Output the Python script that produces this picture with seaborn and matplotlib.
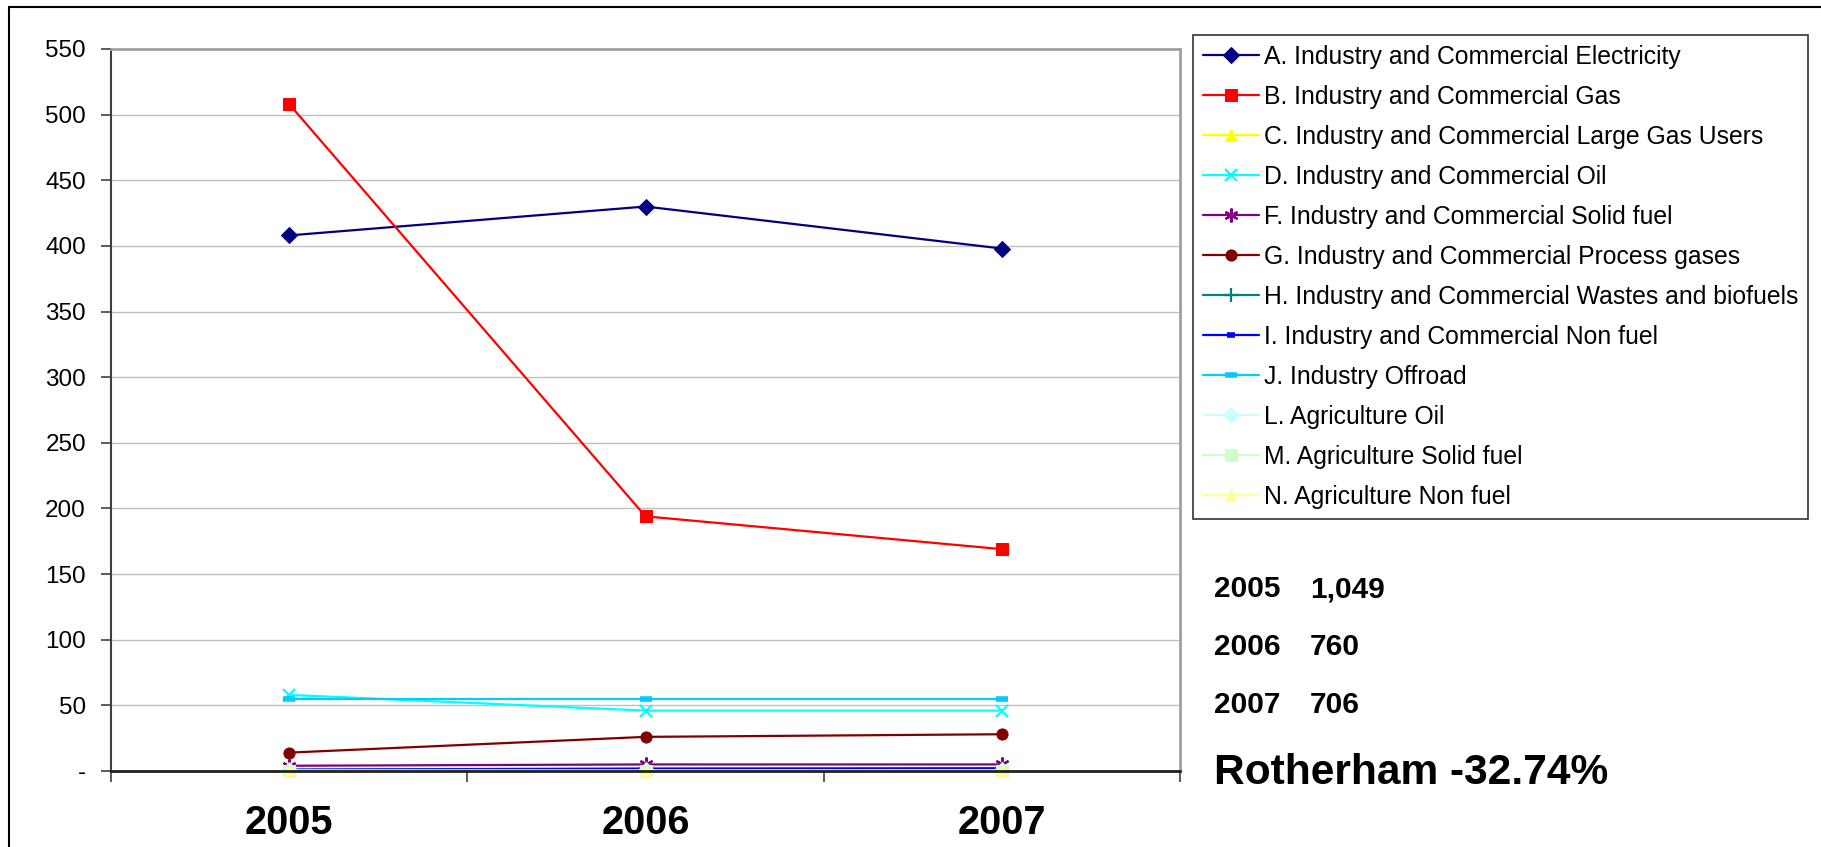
import matplotlib
matplotlib.use("Agg")
import matplotlib.pyplot as plt
from matplotlib.lines import Line2D
from matplotlib.ticker import FixedLocator, FuncFormatter
import numpy as np
import pandas as pd
import seaborn as sns

# ---- data -------------------------------------------------------------
years = [2005, 2006, 2007]

series_names = [
    "A. Industry and Commercial Electricity",
    "B. Industry and Commercial Gas",
    "C. Industry and Commercial Large Gas Users",
    "D. Industry and Commercial Oil",
    "F. Industry and Commercial Solid fuel",
    "G. Industry and Commercial Process gases",
    "H. Industry and Commercial Wastes and biofuels",
    "I. Industry and Commercial Non fuel",
    "J. Industry Offroad",
    "L. Agriculture Oil",
    "M. Agriculture Solid fuel",
    "N. Agriculture Non fuel",
]

elec = [408, 430, 398]
gas = [508, 194, 169]
large_gas = [0.3, 0.3, 0.5]
oil = [58, 46, 46]
solid = [4, 5, 5]
process = [14, 26, 28]
wastes = [1, 2, 2]
non_fuel = [1, 1.5, 2]
offroad = [55, 55, 55]
agri_oil = [0.4, 0.4, 0.5]
agri_solid = [0.2, 0.2, 0.3]
agri_non_fuel = [0.1, 0.1, 0.2]

series_values = [elec, gas, large_gas, oil, solid, process, wastes,
                 non_fuel, offroad, agri_oil, agri_solid, agri_non_fuel]

totals_years = ["2005", "2006", "2007"]
totals_labels = ["1,049", "760", "706"]
headline = "Rotherham -32.74%"

y_ticks = [0, 50, 100, 150, 200, 250, 300, 350, 400, 450, 500, 550]

# ---- styles -----------------------------------------------------------
colors = ["#000080", "#FF0000", "#FFFF00", "#00FFFF", "#800080", "#800000",
          "#008080", "#0000FF", "#00CCFF", "#CCFFFF", "#CCFFCC", "#FFFF99"]
markers = ["D", "s", "^", "x", (6, 2, 0), "o", "+", "_", "_", "D", "s", "^"]
msizes = [8, 8, 9, 9, 10, 8, 10, 6, 8, 8, 8, 9]

rows = []
for name, vals in zip(series_names, series_values):
    for yr, v in zip(years, vals):
        rows.append({"series": name, "year": yr, "value": v})
df = pd.DataFrame(rows)

sns.set_theme(style="white")
plt.rcParams["font.family"] = ["Liberation Sans", "DejaVu Sans"]
plt.rcParams["text.color"] = "black"
plt.rcParams["xtick.labelcolor"] = "black"
plt.rcParams["ytick.labelcolor"] = "black"

W, H = 1821, 847
fig = plt.figure(figsize=(W / 100, H / 100), dpi=100)
fig.patch.set_facecolor("white")

x0, x1, ytop, ybot = 111, 1180, 49, 771
ax = fig.add_axes([x0 / W, 1 - ybot / H, (x1 - x0) / W, (ybot - ytop) / H])

for name, col, mk, ms in zip(series_names, colors, markers, msizes):
    sub = df[df["series"] == name]
    filled = mk not in ("x", "+", "_") and not isinstance(mk, tuple)
    kw = dict(markeredgecolor=col, markerfacecolor=col if filled else "none")
    if mk == "_":
        kw["markeredgewidth"] = 4
    elif not filled:
        kw["markeredgewidth"] = 1.6
    sns.lineplot(data=sub, x="year", y="value", ax=ax, color=col,
                 marker=mk, markersize=ms, linewidth=1.6, label=name,
                 legend=False, clip_on=False, **kw)

ax.set_xlim(2004.5, 2007.5)
ax.set_ylim(0, 550)
ax.set_xlabel("")
ax.set_ylabel("")

ax.yaxis.set_major_locator(FixedLocator(y_ticks))
ax.yaxis.set_major_formatter(FuncFormatter(lambda v, p: "-" if v == 0 else f"{v:.0f}"))
ax.tick_params(axis="y", which="major", direction="out", length=7, width=1.2,
               color="#404040", labelsize=17.5, pad=11, left=True,
               labelcolor="black")

ax.xaxis.set_major_locator(FixedLocator(years))
ax.xaxis.set_major_formatter(FuncFormatter(lambda v, p: f"{v:.0f}"))
ax.xaxis.set_minor_locator(FixedLocator([2004.5, 2005.5, 2006.5, 2007.5]))
ax.tick_params(axis="x", which="major", length=0, labelsize=28.5, pad=24,
               labelcolor="black")
ax.tick_params(axis="x", which="minor", direction="out", length=8, width=1.2,
               color="#404040", bottom=True)
for lbl in ax.get_xticklabels():
    lbl.set_fontweight("bold")

ax.grid(axis="y", color="#c0c0c0", linewidth=1.0)
ax.grid(axis="x", visible=False)
ax.set_axisbelow(True)

ax.spines["left"].set_color("#404040")
ax.spines["left"].set_linewidth(1.5)
ax.spines["bottom"].set_color("#202020")
ax.spines["bottom"].set_linewidth(2)
for s in ("top", "right"):
    ax.spines[s].set_color("#a0a0a0")
    ax.spines[s].set_linewidth(2)

# legend box on the right
handles, labels = ax.get_legend_handles_labels()
leg = fig.legend(handles, labels, loc="upper left",
                 bbox_to_anchor=(1193 / W, 1 - 35 / H),
                 frameon=True, fancybox=False, edgecolor="black",
                 fontsize=17.8, handlelength=2.26, handletextpad=0.2,
                 labelspacing=0.645, borderpad=0.41, borderaxespad=0)
leg.get_frame().set_linewidth(1.2)
for t in leg.get_texts():
    t.set_color("black")

# totals beside the chart
for i, (yr, tot) in enumerate(zip(totals_years, totals_labels)):
    ypix = 589 + i * 58
    fig.text(1214 / W, 1 - ypix / H, yr, fontsize=21.5, fontweight="bold",
             ha="left", va="center", color="black")
    fig.text(1310 / W, 1 - ypix / H, tot, fontsize=21.5, fontweight="bold",
             ha="left", va="center", color="black")
fig.text(1214 / W, 1 - 773 / H, headline, fontsize=30.6, fontweight="bold",
         ha="left", va="center", color="black")

# outer chart frame (top and left edges)
fig.add_artist(Line2D([9 / W, 1.0], [1 - 7 / H, 1 - 7 / H], color="black",
                      linewidth=1.5, transform=fig.transFigure))
fig.add_artist(Line2D([9 / W, 9 / W], [0.0, 1 - 7 / H], color="black",
                      linewidth=1.5, transform=fig.transFigure))

fig.savefig("out.png", dpi=100, facecolor="white")
